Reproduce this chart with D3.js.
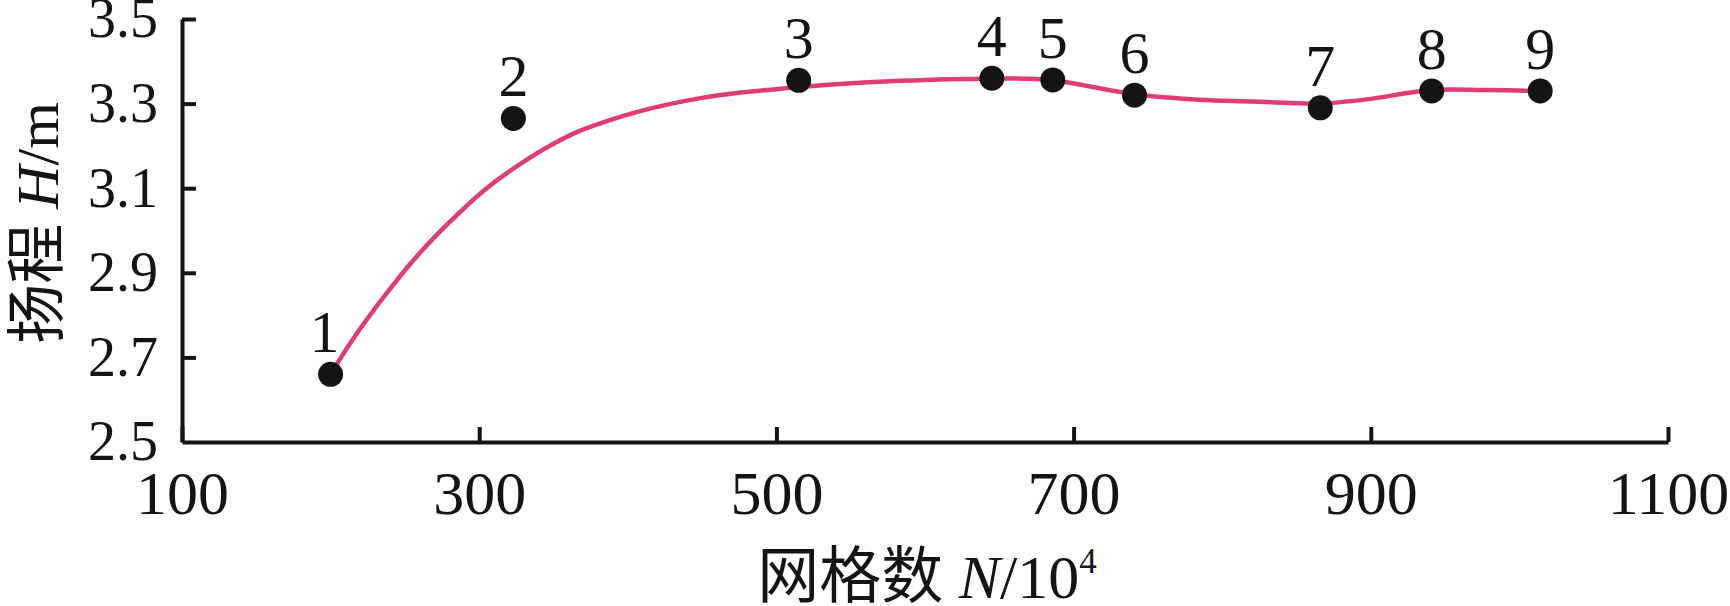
<!DOCTYPE html>
<html>
<head>
<meta charset="utf-8">
<script src="https://cdn.jsdelivr.net/npm/d3@7"></script>
<style>
  body { margin: 0; background: #fff; }
  svg { display: block; }
  .axis path, .axis line { stroke: #141414; stroke-width: 4; }
  .axis text { font-family: "Liberation Serif", "Times New Roman", serif; fill: #141414; }
  .title { font-family: "Liberation Serif", "Noto Sans CJK SC", serif; fill: #141414; }
  .cjk { font-family: "Noto Sans CJK SC", sans-serif; }
</style>
</head>
<body>
<script>
  // measured points (mesh count N/10^4, head H/m)
  var meshN = [200, 323, 515, 645, 686, 741, 866, 941, 1014];
  var headH = [2.66, 3.265, 3.355, 3.36, 3.356, 3.32, 3.29, 3.33, 3.33];
  var pointLabels = ["1", "2", "3", "4", "5", "6", "7", "8", "9"];

  // fitted curve
  var fitN = [200, 215, 238, 260, 283, 305, 328, 350, 368, 388, 404, 422, 449, 476, 505, 540, 583, 644, 684, 741, 785, 819, 852, 866, 897, 941, 976, 1014];
  var fitH = [2.66, 2.743, 2.853, 2.947, 3.030, 3.100, 3.158, 3.205, 3.236, 3.261, 3.278, 3.294, 3.313, 3.326, 3.336, 3.346, 3.354, 3.359, 3.356, 3.322, 3.309, 3.305, 3.301, 3.300, 3.310, 3.332, 3.332, 3.33];

  var xTicks = [100, 300, 500, 700, 900, 1100];
  var yTicks = [2.5, 2.7, 2.9, 3.1, 3.3, 3.5];

  var width = 1730, height = 606;

  var svg = d3.select("body").append("svg")
      .attr("width", width)
      .attr("height", height);

  var x = d3.scaleLinear().domain([100, 1100]).range([182, 1668]);
  var y = d3.scaleLinear().domain([2.5, 3.5]).range([442, 19]);

  // x axis, ticks point up into the plot
  var gx = svg.append("g")
      .attr("class", "axis")
      .attr("transform", "translate(0," + y(2.5) + ")")
      .call(d3.axisBottom(x).tickValues(xTicks).tickFormat(d3.format("d"))
        .tickSizeInner(-15).tickSizeOuter(0).tickPadding(28));
  gx.selectAll("text").style("font-size", "62px");

  // y axis, ticks point right
  var gy = svg.append("g")
      .attr("class", "axis")
      .attr("transform", "translate(" + x(100) + ",0)")
      .call(d3.axisLeft(y).tickValues(yTicks).tickFormat(d3.format(".1f"))
        .tickSizeInner(-14).tickSizeOuter(0).tickPadding(24));
  gy.selectAll("text").style("font-size", "56px");
  gy.selectAll(".tick").filter(d => d === 2.5).select("line").remove();

  // fitted curve
  var line = d3.line()
      .x((d, i) => x(fitN[i]))
      .y(d => y(d))
      .curve(d3.curveCatmullRom.alpha(0.5));

  svg.append("path")
      .datum(fitH)
      .attr("fill", "none")
      .attr("stroke", "#e03c78")
      .attr("stroke-width", 4.5)
      .attr("d", line);

  // points
  svg.selectAll(".dot")
      .data(headH)
      .enter().append("circle")
      .attr("class", "dot")
      .attr("cx", (d, i) => x(meshN[i]))
      .attr("cy", d => y(d))
      .attr("r", 12.5)
      .attr("fill", "#141414");

  svg.selectAll(".plabel")
      .data(headH)
      .enter().append("text")
      .attr("class", "plabel")
      .attr("x", (d, i) => x(meshN[i]) + (i === 0 ? -6 : 0))
      .attr("y", d => y(d) - 22)
      .attr("text-anchor", "middle")
      .style("font-family", "'Liberation Serif', serif")
      .style("font-size", "60px")
      .style("fill", "#141414")
      .text((d, i) => pointLabels[i]);

  // y title
  var yt = svg.append("text")
      .attr("class", "title")
      .attr("transform", "translate(58,223)rotate(-90)")
      .attr("text-anchor", "middle")
      .style("font-size", "60px");
  yt.append("tspan").attr("class", "cjk").text("扬程");
  yt.append("tspan").text(" ");
  yt.append("tspan").style("font-style", "italic").text("H");
  yt.append("tspan").text("/m");

  // x title
  var xt = svg.append("text")
      .attr("class", "title")
      .attr("x", 927)
      .attr("y", 598)
      .attr("text-anchor", "middle")
      .style("font-size", "62px");
  xt.append("tspan").attr("class", "cjk").text("网格数");
  xt.append("tspan").text(" ");
  xt.append("tspan").style("font-style", "italic").text("N");
  xt.append("tspan").text("/10");
  xt.append("tspan").attr("dy", "-25").style("font-size", "35px").text("4");
</script>
</body>
</html>
